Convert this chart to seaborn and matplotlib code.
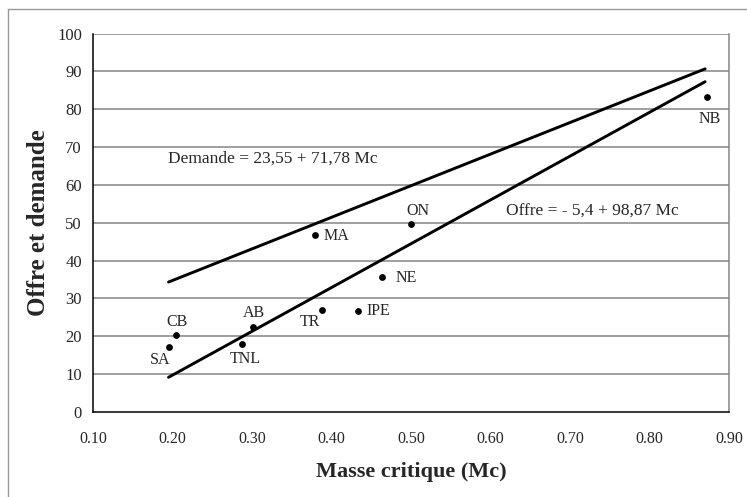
"""
Offre et demande vs masse critique, par province.
"""

import pandas as pd
import seaborn as sns
import matplotlib.pyplot as plt
from matplotlib.lines import Line2D


provinces = ['SA', 'CB', 'AB', 'TNL', 'TR', 'IPE', 'MA', 'ON', 'NE', 'NB']
masse_critique = [0.195, 0.204, 0.301, 0.287, 0.388, 0.433, 0.379, 0.500, 0.464, 0.872]
offre_demande = [17.0, 20.3, 22.4, 17.9, 26.9, 26.6, 46.7, 49.6, 35.6, 83.3]

# regression lines as drawn (end points)
line_x = [0.195, 0.870]
demande_y = [34.3, 90.7]
offre_y = [9.1, 87.3]

demande_eq = 'Demande = 23,55 + 71,78 Mc'
offre_eq = 'Offre = - 5,4 + 98,87 Mc'

# label placement (pixels from the point, alignment)
LABEL_POS = {
    'SA': (-8, -13, 'center'), 'CB': (1, 13, 'center'), 'AB': (1, 14, 'center'),
    'TNL': (4, -15, 'center'), 'TR': (-12, -12, 'center'), 'IPE': (9, 0, 'left'),
    'MA': (9, -1, 'left'), 'ON': (7, 13, 'center'), 'NE': (13, -1, 'left'),
    'NB': (3, -22, 'center'),
}

SERIF = ['Liberation Serif', 'DejaVu Serif']
GRID = '#858585'


sns.set_style('white')
plt.rcParams['font.family'] = SERIF

df = pd.DataFrame({'Mc': masse_critique, 'od': offre_demande, 'prov': provinces})
lines = pd.DataFrame({'x': line_x * 2, 'y': demande_y + offre_y,
                      'serie': ['Demande'] * 2 + ['Offre'] * 2})

fig = plt.figure(figsize=(7.47, 4.97), dpi=100)
ax = fig.add_axes([0.1245, 0.1716, 0.8514, 0.7606])

for yv in range(10, 101, 10):
    ax.axhline(yv, color=GRID, linewidth=1.1, zorder=0)

sns.lineplot(data=lines, x='x', y='y', units='serie', estimator=None, sort=False,
             color='black', linewidth=2.1, ax=ax, legend=False)
sns.scatterplot(data=df, x='Mc', y='od', color='black', s=24, edgecolor='black',
                linewidth=0, ax=ax, legend=False, zorder=3)

for p, xv, yv in zip(provinces, masse_critique, offre_demande):
    dx, dy, ha = LABEL_POS[p]
    ax.annotate(p, (xv, yv), xytext=(dx, dy), textcoords='offset pixels',
                ha=ha, va='center', fontsize=11.5)

ax.text(0.194, 66.9, demande_eq, ha='left', va='center', fontsize=12.5)
ax.text(0.620, 52.9, offre_eq, ha='left', va='center', fontsize=12.5)

ax.set_xlim(0.10, 0.90)
ax.set_ylim(0, 100)
ax.set_xticks([0.1 + 0.1 * i for i in range(9)])
ax.set_xticklabels([f'{0.1 + 0.1 * i:.2f}' for i in range(9)])
ax.set_yticks(range(0, 101, 10))
ax.tick_params(axis='both', direction='out', length=5, width=1, color='black')
ax.tick_params(axis='x', labelsize=11.5, pad=9)
ax.tick_params(axis='y', labelsize=12, pad=3)

ax.spines['left'].set_color('black')
ax.spines['bottom'].set_color('black')
ax.spines['right'].set_color(GRID)
ax.spines['top'].set_visible(False)
for s in ax.spines.values():
    s.set_linewidth(1.1)

ax.set_xlabel('Masse critique (Mc)', fontsize=16, fontweight='bold', labelpad=11)
ax.set_ylabel('Offre et demande', fontsize=18, fontweight='bold', labelpad=5)

# chart area border (left and top edges visible)
fig.add_artist(Line2D([8 / 747, 8 / 747], [0, 1 - 9 / 497], color='#999999', linewidth=1))
fig.add_artist(Line2D([8 / 747, 1], [1 - 9 / 497, 1 - 9 / 497], color='#999999', linewidth=1))

fig.savefig('out.png', dpi=100, facecolor='white')
